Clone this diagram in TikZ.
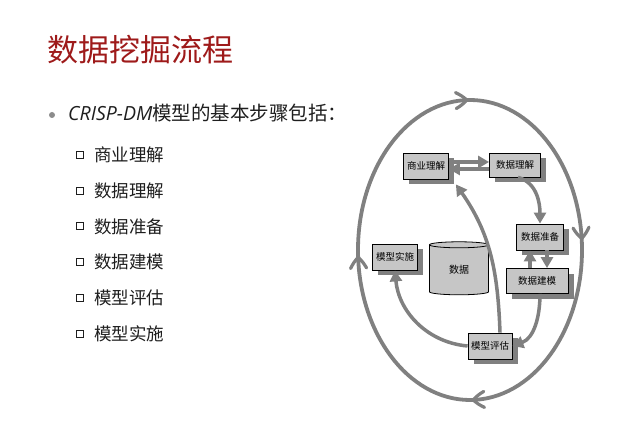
\documentclass[tikz,border=0pt]{standalone}
\usepackage{fontspec}
\setmainfont{Noto Sans CJK SC}
\newfontfamily\latinit{Open Sans}
\usetikzlibrary{arrows.meta,shapes.geometric,shadows,decorations.markings}
\definecolor{titlered}{RGB}{158,26,26}
\definecolor{flowgray}{RGB}{128,128,128}
\definecolor{boxgray}{RGB}{198,198,198}
\definecolor{dotgray}{RGB}{140,140,140}
\definecolor{textblack}{RGB}{30,30,30}

\begin{document}
\begin{tikzpicture}[x=1pt,y=1pt,
  stepbox/.style={draw=black,line width=0.8pt,fill=boxgray,inner sep=0pt,minimum height=26pt,
    font=\fontsize{9.5}{11}\selectfont,
    drop shadow={shadow xshift=5.5pt,shadow yshift=-5.5pt,fill=flowgray,opacity=1}},
  flow/.style={draw=flowgray,line width=3.5pt,-{Triangle[length=11pt,width=12pt]}},
  outerloop/.style={draw=flowgray,line width=3.8pt},
  barb/.style={draw=flowgray,line width=3.2pt,line cap=round,line join=miter},
  itembox/.style={draw=textblack,line width=0.8pt,inner sep=0pt,minimum size=7pt},
  itemtext/.style={text=textblack,font=\fontsize{17.5}{20}\selectfont,anchor=west,inner sep=0pt}]
\useasboundingbox (0,0) rectangle (640,422);

% slide text
\node[text=titlered,font=\fontsize{31}{36}\selectfont,anchor=west,inner sep=0pt] (title) at (47,372) {数据挖掘流程};
\fill[dotgray] (52,307) circle (3pt);
\node[text=textblack,font=\fontsize{19.5}{22}\selectfont,anchor=west,inner sep=0pt] (lead) at (68,309) {{\latinit\itshape CRISP-DM}模型的基本步骤包括：};
\foreach \txt [count=\i] in {商业理解,数据理解,数据准备,数据建模,模型评估,模型实施} {
  \node[itembox] (sq\i) at (80,{303-35.8*\i}) {};
  \node[itemtext] (item\i) at (94,{303-35.8*\i}) {\txt};
}

% outer cycle with open chevrons
\draw[outerloop,postaction={decorate},decoration={markings,
  mark=at position 0.245 with {\draw[barb] (-10pt,8pt) to[bend left=8] (1pt,0pt) to[bend left=8] (-10pt,-8pt);},
  mark=at position 0.49 with {\draw[barb] (-10pt,8pt) to[bend left=8] (1pt,0pt) to[bend left=8] (-10pt,-8pt);},
  mark=at position 0.745 with {\draw[barb] (-10pt,8pt) to[bend left=8] (1pt,0pt) to[bend left=8] (-10pt,-8pt);},
  mark=at position 0.985 with {\draw[barb] (-10pt,8pt) to[bend left=8] (1pt,0pt) to[bend left=8] (-10pt,-8pt);}}]
  (582,172) arc[start angle=0,end angle=-360,x radius=112,y radius=150];

% phases
\node[stepbox,minimum width=45pt] (biz) at (426,256) {商业理解};
\node[stepbox,minimum width=51pt,minimum height=24pt] (und) at (515,257) {数据理解};
\node[stepbox,minimum width=47pt] (prep) at (540,185) {数据准备};
\node[stepbox,minimum width=62pt,minimum height=25pt] (model) at (537,141) {数据建模};
\node[stepbox,minimum width=45pt] (deploy) at (395,165) {模型实施};
\node[stepbox,minimum width=44pt] (eval) at (490,76) {模型评估};
\node[cylinder,shape border rotate=90,aspect=0.3,draw=black,line width=0.8pt,fill=boxgray,
  minimum width=59pt,minimum height=53pt,inner sep=0pt,font=\fontsize{10}{12}\selectfont] (db) at (459,152) {数据};

% flows
\draw[flow] ([yshift=4pt]biz.east) -- ([yshift=4pt]biz.east -| und.west);
\draw[flow] ([yshift=-4pt]und.west) -- ([yshift=-4pt]und.west -| biz.east);
\draw[flow] ([xshift=3pt]und.south) to[out=-15,in=90] (prep.north);
\draw[flow] ([xshift=7pt]prep.south) -- ([xshift=7pt]prep.south |- model.north);
\draw[flow] ([xshift=-7pt]model.north) -- ([xshift=-7pt]model.north |- prep.south);
\draw[flow] ([xshift=3pt]model.south) to[out=-90,in=20] (eval.east);
\draw[flow] ([xshift=10pt]eval.north) to[out=92,in=-55] ([xshift=7pt,yshift=-5pt]biz.south east);
\draw[flow] (eval.west) to[out=175,in=-85] (deploy.south);
\end{tikzpicture}
\end{document}
